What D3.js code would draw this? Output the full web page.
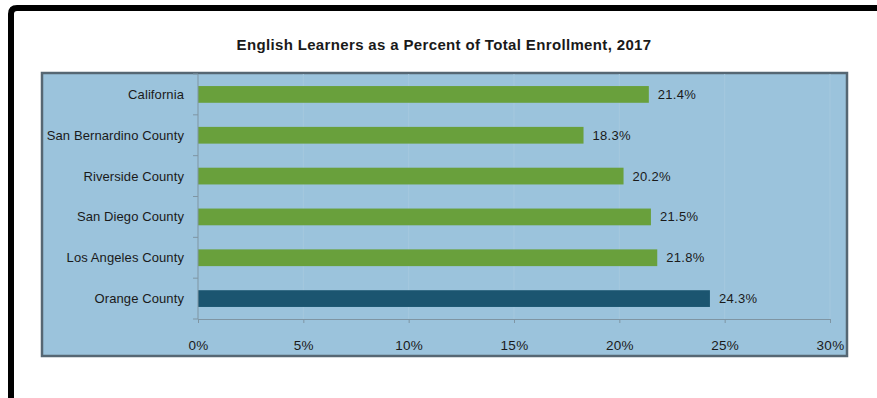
<!DOCTYPE html>
<html lang="en">
<head>
<meta charset="UTF-8">
<title>English Learners as a Percent of Total Enrollment, 2017</title>
<script src="https://d3js.org/d3.v7.min.js"></script>
<style>
    body { margin: 0; background: #fff; }
    svg { display: block; }
    text { font-family: "Liberation Sans", Arial, sans-serif; fill: #1a1a1a; }
</style>
</head>
<body>
<script>
    // data
    const categories = ["California", "San Bernardino County", "Riverside County",
        "San Diego County", "Los Angeles County", "Orange County"];
    const values = [21.4, 18.3, 20.2, 21.5, 21.8, 24.3];
    const highlight = "Orange County";
    const xTicks = [0, 5, 10, 15, 20, 25, 30];

    const width = 877, height = 398;
    const svg = d3.select("body").append("svg")
        .attr("width", width)
        .attr("height", height);

    // outer black frame (top + left)
    svg.append("path")
        .attr("d", "M11,398 L11,14 Q11,8 17,8 L877,8")
        .attr("fill", "none")
        .attr("stroke", "#000")
        .attr("stroke-width", 6);

    // title
    svg.append("text")
        .attr("x", 444)
        .attr("y", 50)
        .attr("text-anchor", "middle")
        .style("font-size", "15px")
        .style("font-weight", "bold")
        .style("letter-spacing", "0.35px")
        .text("English Learners as a Percent of Total Enrollment, 2017");

    // plot box
    svg.append("rect")
        .attr("x", 42).attr("y", 73)
        .attr("width", 805).attr("height", 283)
        .attr("fill", "#9bc3dc")
        .attr("stroke", "#566773")
        .attr("stroke-width", 2.5);

    const x = d3.scaleLinear().domain([0, 30]).range([198, 830]);
    const y = d3.scaleBand().domain(categories).range([74, 319]).paddingInner(0.59).paddingOuter(0.295);

    // faint gridlines
    svg.append("g").selectAll("line")
        .data(xTicks.slice(1))
        .join("line")
        .attr("x1", d => x(d)).attr("x2", d => x(d))
        .attr("y1", 74).attr("y2", 319)
        .attr("stroke", "#a5c8de")
        .attr("stroke-width", 1);

    // bars
    svg.append("g").selectAll("rect")
        .data(categories)
        .join("rect")
        .attr("x", x(0))
        .attr("y", d => y(d))
        .attr("width", (d, i) => x(values[i]) - x(0))
        .attr("height", y.bandwidth())
        .attr("fill", d => d === highlight ? "#1b5570" : "#69a03c");

    // value labels
    svg.append("g").selectAll("text")
        .data(categories)
        .join("text")
        .attr("x", (d, i) => x(values[i]) + 9)
        .attr("y", d => y(d) + y.bandwidth() / 2)
        .attr("dy", "0.35em")
        .style("font-size", "13px")
        .style("letter-spacing", "0.3px")
        .text((d, i) => values[i].toFixed(1) + "%");

    // x axis
    const xAxis = svg.append("g")
        .attr("transform", "translate(0,319)")
        .call(d3.axisBottom(x).tickValues(xTicks).tickSize(4).tickPadding(17).tickFormat(d => d + "%"));
    xAxis.select(".domain").attr("stroke", "#7f95a3");
    xAxis.selectAll(".tick line").attr("stroke", "#7f95a3");
    xAxis.selectAll(".tick text")
        .style("font-size", "13.5px")
        .style("letter-spacing", "0.3px")
        .style("font-family", "'Liberation Sans', Arial, sans-serif")
        .attr("fill", "#1a1a1a");

    // y axis
    const yAxis = svg.append("g").attr("transform", "translate(198,0)");
    yAxis.append("line")
        .attr("x1", 0).attr("x2", 0)
        .attr("y1", 74).attr("y2", 319)
        .attr("stroke", "#7f95a3");
    yAxis.selectAll(".cat-tick")
        .data(d3.range(categories.length + 1))
        .join("line")
        .attr("class", "cat-tick")
        .attr("x1", -5).attr("x2", 0)
        .attr("y1", i => 74 + i * (245 / categories.length))
        .attr("y2", i => 74 + i * (245 / categories.length))
        .attr("stroke", "#7f95a3");
    yAxis.selectAll("text")
        .data(categories)
        .join("text")
        .attr("x", -14)
        .attr("y", d => y(d) + y.bandwidth() / 2)
        .attr("dy", "0.35em")
        .attr("text-anchor", "end")
        .style("font-size", "13px")
        .style("letter-spacing", "0.1px")
        .text(d => d);
</script>
</body>
</html>
